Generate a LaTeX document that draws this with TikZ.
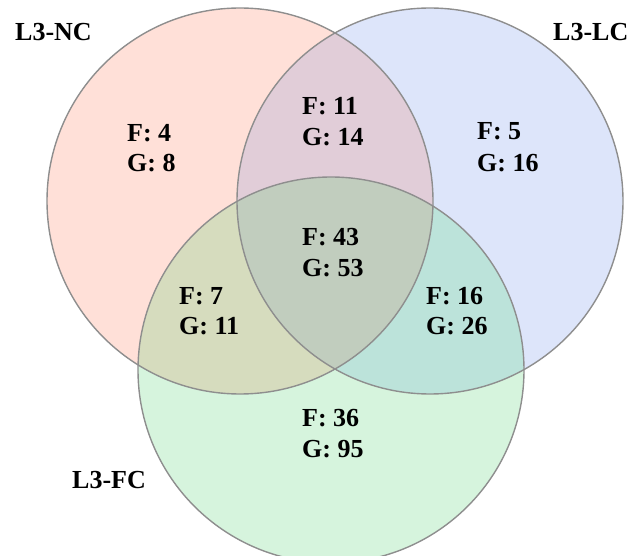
\documentclass[tikz,border=0pt]{standalone}
\usepackage{fontspec}
\setmainfont{Liberation Serif}
\definecolor{cred}{HTML}{FFE0D8}
\definecolor{cblue}{HTML}{DDE5FA}
\definecolor{cgreen}{HTML}{D6F4DD}
\definecolor{crb}{HTML}{E1CDD8}
\definecolor{crg}{HTML}{D6DCBE}
\definecolor{cbg}{HTML}{BCE3DA}
\definecolor{crbg}{HTML}{C1CDBE}
\definecolor{cline}{HTML}{8E8E8E}
\tikzset{
  lbl/.style={anchor=base west, inner sep=0pt, font=\fontsize{26}{30}\selectfont\bfseries},
  ring/.style={draw=cline, line width=1.4pt}
}
\begin{document}
\begin{tikzpicture}[x=1pt,y=-1pt]
\useasboundingbox (0,0) rectangle (630,556);
\coordinate (R) at (240,201);
\coordinate (B) at (430,201);
\coordinate (G) at (331,370);
\def\rr{193}
% single fills
\fill[cred] (R) circle (\rr);
\fill[cblue] (B) circle (\rr);
\fill[cgreen] (G) circle (\rr);
% pairwise
\begin{scope}
  \clip (R) circle (\rr);
  \fill[crb] (B) circle (\rr);
  \fill[crg] (G) circle (\rr);
\end{scope}
\begin{scope}
  \clip (B) circle (\rr);
  \fill[cbg] (G) circle (\rr);
\end{scope}
\begin{scope}
  \clip (R) circle (\rr);
  \clip (B) circle (\rr);
  \fill[crbg] (G) circle (\rr);
\end{scope}
% outlines
\draw[ring] (R) circle (\rr);
\draw[ring] (B) circle (\rr);
\draw[ring] (G) circle (\rr);
% set labels
\node[lbl] (tNC) at (15,41) {L3-NC};
\node[lbl] (tLC) at (553,41) {L3-LC};
\node[lbl] (tFC) at (72,488) {L3-FC};
% counts
\node[lbl] (a1) at (127,142) {F: 4};
\node[lbl] (a2) at (127,172) {G: 8};
\node[lbl] (b1) at (302,115) {F: 11};
\node[lbl] (b2) at (302,146) {G: 14};
\node[lbl] (c1) at (477,140) {F: 5};
\node[lbl] (c2) at (477,172) {G: 16};
\node[lbl] (d1) at (302,246) {F: 43};
\node[lbl] (d2) at (302,277) {G: 53};
\node[lbl] (e1) at (179,305) {F: 7};
\node[lbl] (e2) at (179,335) {G: 11};
\node[lbl] (f1) at (426,305) {F: 16};
\node[lbl] (f2) at (426,335) {G: 26};
\node[lbl] (g1) at (302,426) {F: 36};
\node[lbl] (g2) at (302,457) {G: 95};
\end{tikzpicture}
\end{document}
